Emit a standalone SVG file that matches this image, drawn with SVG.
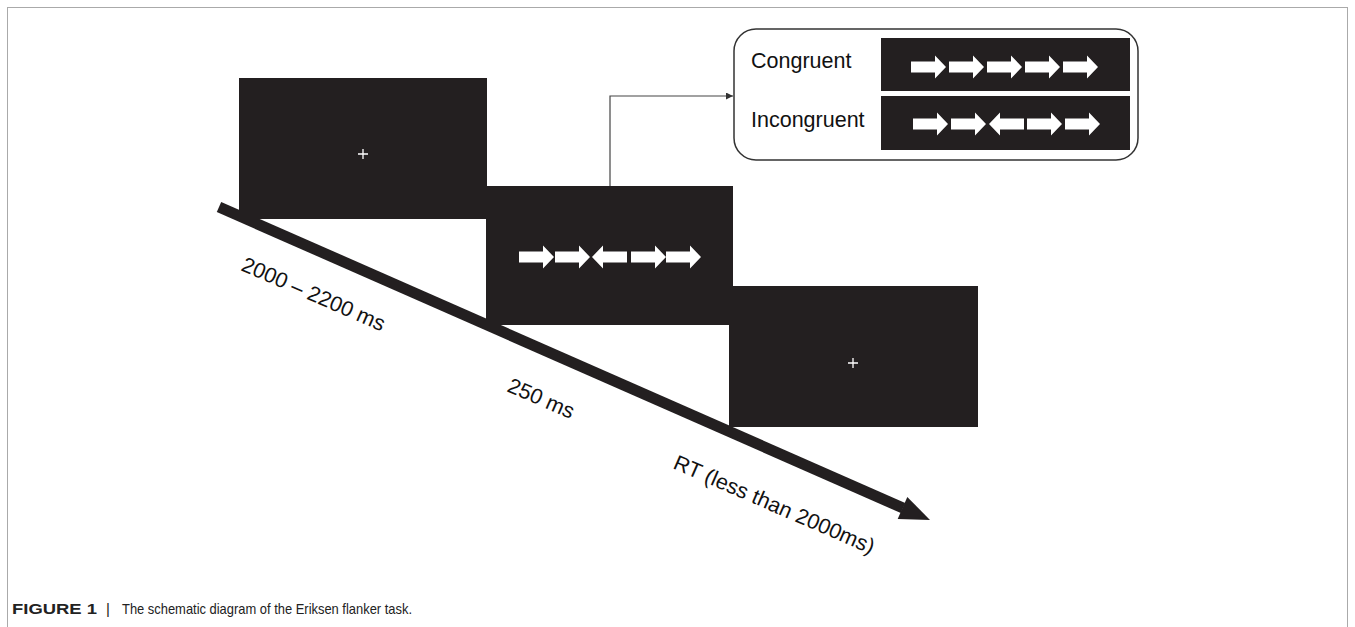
<svg xmlns="http://www.w3.org/2000/svg" xmlns:xlink="http://www.w3.org/1999/xlink" width="1355" height="627" viewBox="0 0 1355 627">
<style>
.scr{fill:#231f20}
.fix{stroke:#fff;stroke-width:1.3}
.lbl{font-family:"Liberation Sans",Arial,sans-serif;font-size:21.5px;fill:#111}
.cap{font-family:"Liberation Sans",Arial,sans-serif;font-size:15px;fill:#222}
.conn{fill:none;stroke:#444;stroke-width:1.2}
</style>
<defs>
<path id="ra" d="M0,-5.5 H24 V-11.5 L35,0 L24,11.5 V5.5 H0 Z" fill="#fff"/>
<path id="la" d="M35,-5.5 H11 V-11.5 L0,0 L11,11.5 V5.5 H35 Z" fill="#fff"/>
<marker id="ah" viewBox="0 0 10 10" refX="10" refY="5" markerWidth="7" markerHeight="7" markerUnits="userSpaceOnUse" orient="auto">
<path d="M0,0 L10,5 L0,10 Z" fill="#333"/>
</marker>
</defs>
<rect x="7.5" y="7.5" width="1340" height="650" fill="#fff" stroke="#aaa" stroke-width="1"/>

<g id="axis">
<line x1="219" y1="207" x2="903" y2="508" stroke="#231f20" stroke-width="11"/>
<polygon points="930,520 897.7,518.9 907.3,496.9" fill="#231f20"/>
</g>

<g id="screen1">
<rect class="scr" x="239" y="78" width="248" height="141"/>
<path class="fix" d="M358,154 H368 M363,149 V159"/>
</g>

<g id="screen2">
<rect class="scr" x="486" y="186" width="247" height="139"/>
<use xlink:href="#ra" x="519" y="257"/>
<use xlink:href="#ra" x="555" y="257"/>
<use xlink:href="#la" x="592" y="257"/>
<use xlink:href="#ra" x="631" y="257"/>
<use xlink:href="#ra" x="666" y="257"/>
</g>

<g id="screen3">
<rect class="scr" x="729" y="286" width="249" height="141"/>
<path class="fix" d="M848,363 H858 M853,358 V368"/>
</g>

<g id="connectors">
<polyline class="conn" points="610,186 610,96 733,96" marker-end="url(#ah)"/>
</g>

<g id="conditions">
<rect x="734" y="29" width="404" height="131" rx="22" ry="22" fill="#fff" stroke="#333" stroke-width="1.5"/>
<text class="lbl" x="751" y="68">Congruent</text>
<text class="lbl" x="751" y="127">Incongruent</text>
<rect class="scr" x="881" y="38" width="249" height="53"/>
<rect class="scr" x="881" y="96" width="249" height="54"/>
<use xlink:href="#ra" x="911" y="67"/>
<use xlink:href="#ra" x="949" y="67"/>
<use xlink:href="#ra" x="987" y="67"/>
<use xlink:href="#ra" x="1025" y="67"/>
<use xlink:href="#ra" x="1063" y="67"/>
<use xlink:href="#ra" x="913" y="124"/>
<use xlink:href="#ra" x="951" y="124"/>
<use xlink:href="#la" x="989" y="124"/>
<use xlink:href="#ra" x="1027" y="124"/>
<use xlink:href="#ra" x="1065" y="124"/>
</g>

<g id="labels">
<text class="lbl" transform="translate(240,270) rotate(23.5)">2000 – 2200 ms</text>
<text class="lbl" transform="translate(506,391) rotate(23.5)">250 ms</text>
<text class="lbl" transform="translate(672,468) rotate(23.5)">RT (less than 2000ms)</text>
</g>

<g id="caption">
<text class="cap" x="12" y="614"><tspan font-weight="bold" textLength="85" lengthAdjust="spacingAndGlyphs">FIGURE 1</tspan><tspan x="106">|</tspan><tspan x="122" textLength="290" lengthAdjust="spacingAndGlyphs">The schematic diagram of the Eriksen flanker task.</tspan></text>
</g>
</svg>
